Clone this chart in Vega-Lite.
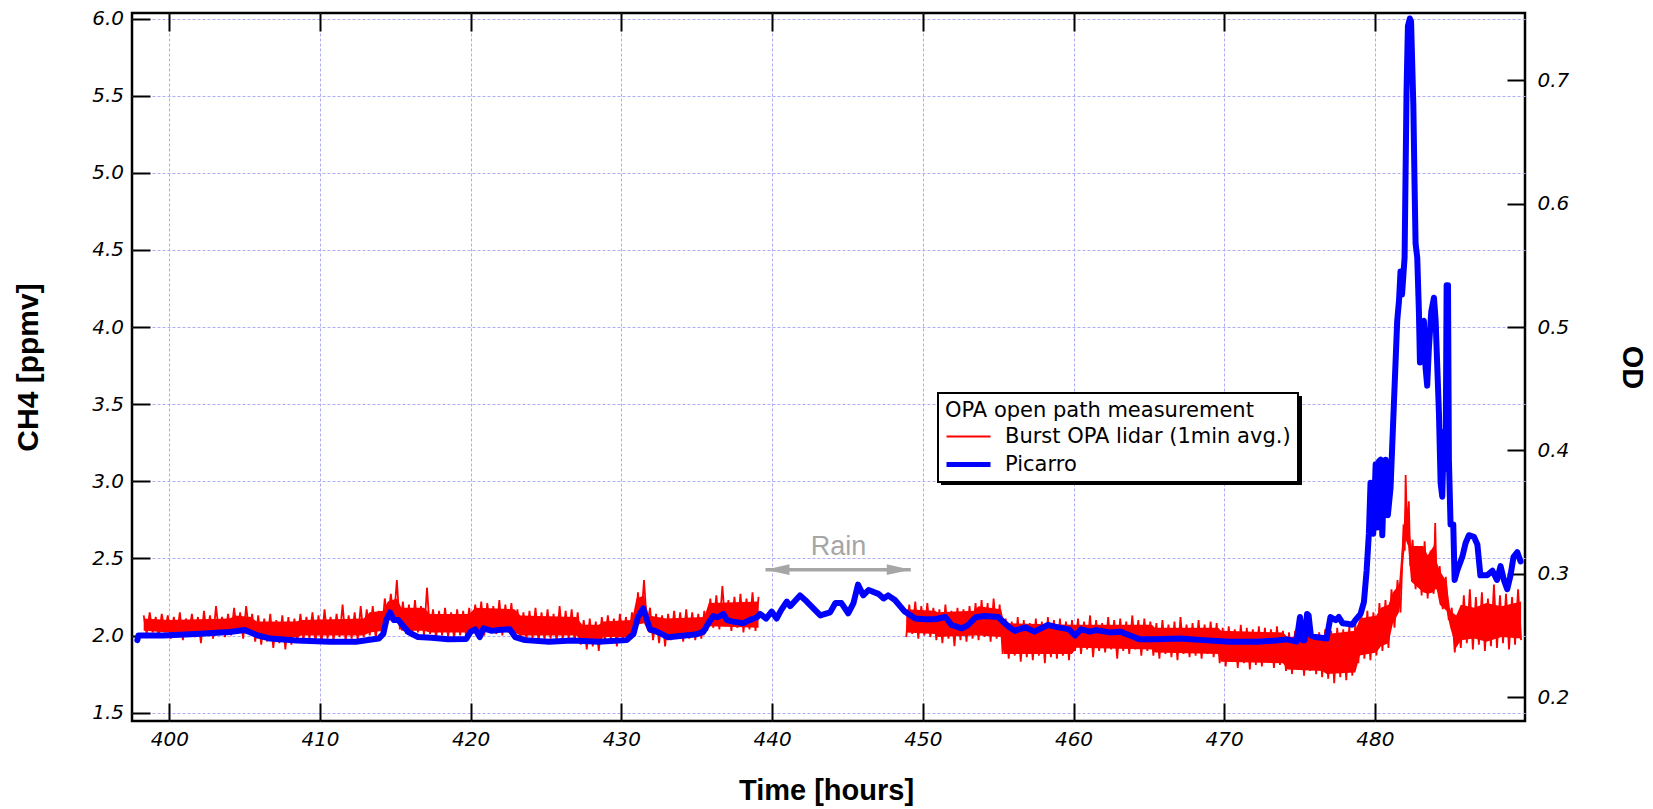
{
  "$schema": "https://vega.github.io/schema/vega-lite/v6.json",
  "width": 1393,
  "height": 708,
  "autosize": {"type": "none"},
  "padding": {"left": 132, "top": 13, "right": 128, "bottom": 88},
  "background": "white",
  "config": {
    "view": {"stroke": "black", "strokeWidth": 2.5},
    "axis": {
      "domain": false,
      "tickColor": "black",
      "tickWidth": 2,
      "tickSize": -18,
      "labelColor": "black",
      "labelFont": "DejaVu Sans",
      "labelFontStyle": "italic",
      "labelFontSize": 20,
      "titleFont": "Liberation Sans",
      "titleFontWeight": "bold",
      "titleFontSize": 29,
      "titleColor": "black",
      "gridColor": "#adadf5",
      "gridDash": [3, 2],
      "gridWidth": 1
    }
  },
  "datasets": {
    "band1": [
      {"t":398.3,"lo":2.03,"hi":2.11},{"t":400.0,"lo":2.02,"hi":2.10},{"t":404.0,"lo":2.02,"hi":2.11},{"t":404.4,"lo":2.02,"hi":2.13},{"t":405.4,"lo":2.01,"hi":2.12},
      {"t":405.8,"lo":1.98,"hi":2.09},{"t":408.4,"lo":1.99,"hi":2.09},{"t":408.8,"lo":2.00,"hi":2.10},{"t":412.9,"lo":2.00,"hi":2.11},{"t":413.3,"lo":2.02,"hi":2.15},
      {"t":414.2,"lo":2.03,"hi":2.16},{"t":414.5,"lo":2.10,"hi":2.22},{"t":415.1,"lo":2.09,"hi":2.24},{"t":415.4,"lo":2.03,"hi":2.18},{"t":416.9,"lo":2.03,"hi":2.18},
      {"t":417.3,"lo":2.02,"hi":2.14},{"t":419.9,"lo":2.02,"hi":2.14},{"t":420.3,"lo":2.03,"hi":2.18},{"t":422.9,"lo":2.02,"hi":2.17},{"t":423.3,"lo":2.00,"hi":2.13},
      {"t":427.0,"lo":2.00,"hi":2.12},{"t":427.4,"lo":1.96,"hi":2.07},{"t":428.5,"lo":1.95,"hi":2.07},{"t":428.8,"lo":1.99,"hi":2.09},{"t":430.7,"lo":1.99,"hi":2.10},
      {"t":431.0,"lo":2.07,"hi":2.24},{"t":431.5,"lo":2.08,"hi":2.26},{"t":431.8,"lo":2.02,"hi":2.13},{"t":433.0,"lo":1.99,"hi":2.11},{"t":435.5,"lo":2.00,"hi":2.12},
      {"t":435.8,"lo":2.06,"hi":2.21},{"t":439.1,"lo":2.05,"hi":2.22}
    ],
    "band2": [
      {"t":448.9,"lo":2.02,"hi":2.17},{"t":450.8,"lo":2.01,"hi":2.16},{"t":451.0,"lo":1.99,"hi":2.15},{"t":453.4,"lo":2.00,"hi":2.16},{"t":453.7,"lo":2.00,"hi":2.19},
      {"t":455.2,"lo":1.99,"hi":2.17},{"t":455.4,"lo":1.88,"hi":2.08},{"t":459.9,"lo":1.88,"hi":2.07},{"t":460.2,"lo":1.92,"hi":2.07},{"t":465.2,"lo":1.91,"hi":2.07},
      {"t":465.4,"lo":1.89,"hi":2.05},{"t":469.6,"lo":1.88,"hi":2.05},{"t":469.8,"lo":1.83,"hi":2.03},{"t":473.9,"lo":1.82,"hi":2.02},{"t":474.2,"lo":1.78,"hi":1.99},
      {"t":476.5,"lo":1.77,"hi":2.00},{"t":476.8,"lo":1.75,"hi":2.01},{"t":478.7,"lo":1.76,"hi":2.03},{"t":479.0,"lo":1.87,"hi":2.11},{"t":480.1,"lo":1.89,"hi":2.13},
      {"t":480.4,"lo":1.93,"hi":2.18},{"t":480.9,"lo":1.95,"hi":2.20},{"t":481.2,"lo":2.08,"hi":2.28},{"t":481.6,"lo":2.15,"hi":2.33},{"t":481.9,"lo":2.50,"hi":2.70},
      {"t":482.04,"lo":2.62,"hi":2.90},{"t":482.2,"lo":2.58,"hi":2.80},{"t":482.4,"lo":2.35,"hi":2.58},{"t":483.2,"lo":2.28,"hi":2.58},{"t":483.5,"lo":2.27,"hi":2.52},
      {"t":483.9,"lo":2.28,"hi":2.58},{"t":484.0,"lo":2.30,"hi":2.68},{"t":484.1,"lo":2.30,"hi":2.48},{"t":484.3,"lo":2.20,"hi":2.42},{"t":484.75,"lo":2.16,"hi":2.35},
      {"t":485.0,"lo":2.05,"hi":2.16},{"t":485.4,"lo":1.92,"hi":2.13},{"t":485.7,"lo":1.97,"hi":2.20},{"t":486.6,"lo":1.98,"hi":2.18},{"t":487.4,"lo":1.96,"hi":2.21},
      {"t":488.4,"lo":1.99,"hi":2.19},{"t":489.7,"lo":1.98,"hi":2.22}
    ],
    "red1": [
      {"t":398.3,"v":2.13},{"t":398.5,"v":2.01},{"t":398.7,"v":2.15},{"t":398.9,"v":2.02},{"t":399.1,"v":2.12},{"t":399.3,"v":1.99},{"t":399.5,"v":2.14},{"t":399.7,"v":2.02},{"t":399.9,"v":2.13},{"t":400.1,"v":1.98},
      {"t":400.3,"v":2.12},{"t":400.5,"v":2.00},{"t":400.7,"v":2.15},{"t":400.9,"v":1.97},{"t":401.1,"v":2.11},{"t":401.3,"v":2.01},{"t":401.5,"v":2.14},{"t":401.7,"v":1.99},{"t":401.9,"v":2.12},{"t":402.1,"v":1.95},
      {"t":402.3,"v":2.16},{"t":402.5,"v":2.00},{"t":402.7,"v":2.13},{"t":402.9,"v":1.98},{"t":403.1,"v":2.19},{"t":403.3,"v":2.01},{"t":403.5,"v":2.12},{"t":403.7,"v":1.99},{"t":403.9,"v":2.14},{"t":404.1,"v":2.00},
      {"t":404.3,"v":2.18},{"t":404.5,"v":2.01},{"t":404.7,"v":2.15},{"t":404.9,"v":1.98},{"t":405.1,"v":2.19},{"t":405.3,"v":2.02},{"t":405.5,"v":2.14},{"t":405.7,"v":1.96},{"t":405.9,"v":2.13},{"t":406.1,"v":1.94},
      {"t":406.3,"v":2.11},{"t":406.5,"v":1.96},{"t":406.7,"v":2.14},{"t":406.9,"v":1.92},{"t":407.1,"v":2.10},{"t":407.3,"v":1.95},{"t":407.5,"v":2.13},{"t":407.7,"v":1.91},{"t":407.9,"v":2.12},{"t":408.1,"v":1.94},
      {"t":408.3,"v":2.11},{"t":408.5,"v":1.96},{"t":408.7,"v":2.14},{"t":408.9,"v":1.97},{"t":409.1,"v":2.12},{"t":409.3,"v":1.98},{"t":409.5,"v":2.15},{"t":409.7,"v":1.96},{"t":409.9,"v":2.13},{"t":410.1,"v":1.95},
      {"t":410.3,"v":2.17},{"t":410.5,"v":1.98},{"t":410.7,"v":2.12},{"t":410.9,"v":1.97},{"t":411.1,"v":2.14},{"t":411.3,"v":1.99},{"t":411.5,"v":2.20},{"t":411.7,"v":1.96},{"t":411.9,"v":2.13},{"t":412.1,"v":1.98},
      {"t":412.3,"v":2.15},{"t":412.5,"v":1.97},{"t":412.7,"v":2.19},{"t":412.9,"v":1.99},{"t":413.1,"v":2.17},{"t":413.3,"v":2.00},{"t":413.5,"v":2.19},{"t":413.7,"v":1.98},{"t":413.9,"v":2.16},{"t":414.1,"v":2.02},
      {"t":414.3,"v":2.24},{"t":414.5,"v":2.08},{"t":414.7,"v":2.27},{"t":414.9,"v":2.10},{"t":415.1,"v":2.36},{"t":415.3,"v":2.04},{"t":415.5,"v":2.22},{"t":415.7,"v":2.01},{"t":415.9,"v":2.20},{"t":416.1,"v":1.99},
      {"t":416.3,"v":2.23},{"t":416.5,"v":2.02},{"t":416.7,"v":2.19},{"t":416.9,"v":2.00},{"t":417.1,"v":2.31},{"t":417.3,"v":2.01},{"t":417.5,"v":2.17},{"t":417.7,"v":1.98},{"t":417.9,"v":2.16},{"t":418.1,"v":2.00},
      {"t":418.3,"v":2.18},{"t":418.5,"v":1.99},{"t":418.7,"v":2.15},{"t":418.9,"v":1.98},{"t":419.1,"v":2.17},{"t":419.3,"v":2.00},{"t":419.5,"v":2.16},{"t":419.7,"v":1.99},{"t":419.9,"v":2.18},{"t":420.1,"v":2.01},
      {"t":420.3,"v":2.20},{"t":420.5,"v":2.02},{"t":420.7,"v":2.22},{"t":420.9,"v":2.00},{"t":421.1,"v":2.21},{"t":421.3,"v":2.03},{"t":421.5,"v":2.19},{"t":421.7,"v":2.01},{"t":421.9,"v":2.23},{"t":422.1,"v":2.00},
      {"t":422.3,"v":2.20},{"t":422.5,"v":2.02},{"t":422.7,"v":2.21},{"t":422.9,"v":1.99},{"t":423.1,"v":2.17},{"t":423.3,"v":1.98},{"t":423.5,"v":2.15},{"t":423.7,"v":1.97},{"t":423.9,"v":2.16},{"t":424.1,"v":1.98},
      {"t":424.3,"v":2.18},{"t":424.5,"v":1.96},{"t":424.7,"v":2.15},{"t":424.9,"v":1.97},{"t":425.1,"v":2.17},{"t":425.3,"v":1.98},{"t":425.5,"v":2.14},{"t":425.7,"v":1.96},{"t":425.9,"v":2.19},{"t":426.1,"v":1.97},
      {"t":426.3,"v":2.16},{"t":426.5,"v":1.98},{"t":426.7,"v":2.17},{"t":426.9,"v":1.96},{"t":427.1,"v":2.15},{"t":427.3,"v":1.94},{"t":427.5,"v":2.10},{"t":427.7,"v":1.91},{"t":427.9,"v":2.11},{"t":428.1,"v":1.93},
      {"t":428.3,"v":2.09},{"t":428.5,"v":1.90},{"t":428.7,"v":2.12},{"t":428.9,"v":1.96},{"t":429.1,"v":2.13},{"t":429.3,"v":1.97},{"t":429.5,"v":2.11},{"t":429.7,"v":1.93},{"t":429.9,"v":2.14},{"t":430.1,"v":1.96},
      {"t":430.3,"v":2.12},{"t":430.5,"v":1.97},{"t":430.7,"v":2.15},{"t":430.9,"v":2.04},{"t":431.1,"v":2.28},{"t":431.3,"v":2.08},{"t":431.5,"v":2.36},{"t":431.7,"v":2.06},{"t":431.9,"v":2.18},{"t":432.1,"v":1.97},
      {"t":432.3,"v":2.14},{"t":432.5,"v":1.95},{"t":432.7,"v":2.13},{"t":432.9,"v":1.93},{"t":433.1,"v":2.14},{"t":433.3,"v":1.97},{"t":433.5,"v":2.16},{"t":433.7,"v":1.98},{"t":433.9,"v":2.15},{"t":434.1,"v":1.96},
      {"t":434.3,"v":2.17},{"t":434.5,"v":1.98},{"t":434.7,"v":2.15},{"t":434.9,"v":1.97},{"t":435.1,"v":2.14},{"t":435.3,"v":1.98},{"t":435.5,"v":2.16},{"t":435.7,"v":2.03},{"t":435.9,"v":2.24},{"t":436.1,"v":2.05},
      {"t":436.3,"v":2.26},{"t":436.5,"v":2.04},{"t":436.7,"v":2.32},{"t":436.9,"v":2.06},{"t":437.1,"v":2.23},{"t":437.3,"v":2.03},{"t":437.5,"v":2.25},{"t":437.7,"v":2.05},{"t":437.9,"v":2.27},{"t":438.1,"v":2.02},
      {"t":438.3,"v":2.24},{"t":438.5,"v":2.04},{"t":438.7,"v":2.28},{"t":438.9,"v":2.03},{"t":439.1,"v":2.25}
    ],
    "red2": [
      {"t":448.9,"v":1.99},{"t":449.1,"v":2.20},{"t":449.3,"v":2.01},{"t":449.5,"v":2.22},{"t":449.7,"v":1.98},{"t":449.9,"v":2.19},{"t":450.1,"v":2.00},{"t":450.3,"v":2.21},{"t":450.5,"v":1.99},{"t":450.7,"v":2.18},
      {"t":450.9,"v":1.97},{"t":451.1,"v":2.17},{"t":451.3,"v":1.95},{"t":451.5,"v":2.20},{"t":451.7,"v":1.98},{"t":451.9,"v":2.16},{"t":452.1,"v":1.93},{"t":452.3,"v":2.18},{"t":452.5,"v":1.97},{"t":452.7,"v":2.17},
      {"t":452.9,"v":1.96},{"t":453.1,"v":2.19},{"t":453.3,"v":1.98},{"t":453.5,"v":2.21},{"t":453.7,"v":1.97},{"t":453.9,"v":2.23},{"t":454.1,"v":1.99},{"t":454.3,"v":2.21},{"t":454.5,"v":1.96},{"t":454.7,"v":2.24},
      {"t":454.9,"v":1.98},{"t":455.1,"v":2.20},{"t":455.3,"v":1.88},{"t":455.5,"v":2.11},{"t":455.7,"v":1.85},{"t":455.9,"v":2.09},{"t":456.1,"v":1.87},{"t":456.3,"v":2.12},{"t":456.5,"v":1.83},{"t":456.7,"v":2.10},
      {"t":456.9,"v":1.86},{"t":457.1,"v":2.08},{"t":457.3,"v":1.84},{"t":457.5,"v":2.11},{"t":457.7,"v":1.87},{"t":457.9,"v":2.09},{"t":458.1,"v":1.82},{"t":458.3,"v":2.12},{"t":458.5,"v":1.86},{"t":458.7,"v":2.10},
      {"t":458.9,"v":1.85},{"t":459.1,"v":2.11},{"t":459.3,"v":1.87},{"t":459.5,"v":2.09},{"t":459.7,"v":1.84},{"t":459.9,"v":2.10},{"t":460.1,"v":1.90},{"t":460.3,"v":2.11},{"t":460.5,"v":1.88},{"t":460.7,"v":2.09},
      {"t":460.9,"v":1.91},{"t":461.1,"v":2.13},{"t":461.3,"v":1.86},{"t":461.5,"v":2.10},{"t":461.7,"v":1.90},{"t":461.9,"v":2.08},{"t":462.1,"v":1.89},{"t":462.3,"v":2.12},{"t":462.5,"v":1.91},{"t":462.7,"v":2.10},
      {"t":462.9,"v":1.85},{"t":463.1,"v":2.11},{"t":463.3,"v":1.90},{"t":463.5,"v":2.09},{"t":463.7,"v":1.88},{"t":463.9,"v":2.13},{"t":464.1,"v":1.91},{"t":464.3,"v":2.10},{"t":464.5,"v":1.87},{"t":464.7,"v":2.11},
      {"t":464.9,"v":1.90},{"t":465.1,"v":2.09},{"t":465.3,"v":1.87},{"t":465.5,"v":2.08},{"t":465.7,"v":1.85},{"t":465.9,"v":2.10},{"t":466.1,"v":1.88},{"t":466.3,"v":2.07},{"t":466.5,"v":1.86},{"t":466.7,"v":2.09},
      {"t":466.9,"v":1.84},{"t":467.1,"v":2.12},{"t":467.3,"v":1.88},{"t":467.5,"v":2.07},{"t":467.7,"v":1.86},{"t":467.9,"v":2.08},{"t":468.1,"v":1.87},{"t":468.3,"v":2.10},{"t":468.5,"v":1.85},{"t":468.7,"v":2.07},
      {"t":468.9,"v":1.88},{"t":469.1,"v":2.09},{"t":469.3,"v":1.86},{"t":469.5,"v":2.08},{"t":469.7,"v":1.82},{"t":469.9,"v":2.05},{"t":470.1,"v":1.80},{"t":470.3,"v":2.06},{"t":470.5,"v":1.83},{"t":470.7,"v":2.04},
      {"t":470.9,"v":1.79},{"t":471.1,"v":2.07},{"t":471.3,"v":1.82},{"t":471.5,"v":2.05},{"t":471.7,"v":1.78},{"t":471.9,"v":2.04},{"t":472.1,"v":1.81},{"t":472.3,"v":2.06},{"t":472.5,"v":1.80},{"t":472.7,"v":2.05},
      {"t":472.9,"v":1.83},{"t":473.1,"v":2.04},{"t":473.3,"v":1.79},{"t":473.5,"v":2.06},{"t":473.7,"v":1.81},{"t":473.9,"v":2.03},{"t":474.1,"v":1.77},{"t":474.3,"v":2.02},{"t":474.5,"v":1.75},{"t":474.7,"v":2.03},
      {"t":474.9,"v":1.78},{"t":475.1,"v":2.01},{"t":475.3,"v":1.74},{"t":475.5,"v":2.03},{"t":475.7,"v":1.77},{"t":475.9,"v":2.00},{"t":476.1,"v":1.75},{"t":476.3,"v":2.02},{"t":476.5,"v":1.73},{"t":476.7,"v":2.04},
      {"t":476.9,"v":1.72},{"t":477.1,"v":2.03},{"t":477.3,"v":1.69},{"t":477.5,"v":2.05},{"t":477.7,"v":1.73},{"t":477.9,"v":2.04},{"t":478.1,"v":1.71},{"t":478.3,"v":2.06},{"t":478.5,"v":1.74},{"t":478.7,"v":2.08},
      {"t":478.9,"v":1.82},{"t":479.1,"v":2.14},{"t":479.3,"v":1.85},{"t":479.5,"v":2.16},{"t":479.7,"v":1.84},{"t":479.9,"v":2.15},{"t":480.1,"v":1.87},{"t":480.3,"v":2.21},{"t":480.5,"v":1.90},{"t":480.7,"v":2.23},
      {"t":480.9,"v":1.92},{"t":481.1,"v":2.30},{"t":481.3,"v":2.05},{"t":481.5,"v":2.36},{"t":481.7,"v":2.15},{"t":481.9,"v":2.72},{"t":481.98,"v":2.55},{"t":482.04,"v":3.04},{"t":482.15,"v":2.62},{"t":482.25,"v":2.87},
      {"t":482.35,"v":2.45},{"t":482.5,"v":2.62},{"t":482.7,"v":2.30},{"t":482.9,"v":2.58},{"t":483.1,"v":2.26},{"t":483.3,"v":2.61},{"t":483.5,"v":2.24},{"t":483.7,"v":2.55},{"t":483.9,"v":2.27},{"t":484.0,"v":2.73},
      {"t":484.1,"v":2.30},{"t":484.3,"v":2.45},{"t":484.5,"v":2.17},{"t":484.7,"v":2.38},{"t":484.9,"v":2.10},{"t":485.1,"v":2.18},{"t":485.3,"v":1.89},{"t":485.5,"v":2.14},{"t":485.7,"v":1.92},{"t":485.9,"v":2.26},
      {"t":486.1,"v":1.95},{"t":486.3,"v":2.30},{"t":486.5,"v":1.91},{"t":486.7,"v":2.25},{"t":486.9,"v":1.94},{"t":487.1,"v":2.28},{"t":487.3,"v":1.90},{"t":487.5,"v":2.24},{"t":487.7,"v":1.93},{"t":487.9,"v":2.33},
      {"t":488.1,"v":1.92},{"t":488.3,"v":2.26},{"t":488.5,"v":1.95},{"t":488.7,"v":2.27},{"t":488.9,"v":1.91},{"t":489.1,"v":2.25},{"t":489.3,"v":1.94},{"t":489.5,"v":2.30},{"t":489.7,"v":1.97}
    ],
    "blue": [
      {"t":397.88,"v":1.97},{"t":397.95,"v":2.0},{"t":399.6,"v":2.0},{"t":401.8,"v":2.01},{"t":404.0,"v":2.023},{"t":405.0,"v":2.036},{"t":405.8,"v":2.003},{"t":406.7,"v":1.98},{"t":408.45,"v":1.967},{"t":410.66,"v":1.96},
      {"t":412.4,"v":1.96},{"t":413.3,"v":1.972},{"t":413.9,"v":1.98},{"t":414.2,"v":2.01},{"t":414.4,"v":2.1},{"t":414.65,"v":2.15},{"t":414.9,"v":2.1},{"t":415.2,"v":2.1},{"t":415.45,"v":2.07},{"t":415.9,"v":2.02},
      {"t":416.5,"v":1.99},{"t":417.4,"v":1.985},{"t":418.5,"v":1.975},{"t":419.7,"v":1.977},{"t":420.0,"v":2.025},{"t":420.3,"v":2.04},{"t":420.6,"v":1.99},{"t":420.85,"v":2.046},{"t":421.4,"v":2.03},{"t":421.8,"v":2.035},
      {"t":422.6,"v":2.04},{"t":422.95,"v":1.99},{"t":423.6,"v":1.97},{"t":425.2,"v":1.96},{"t":426.7,"v":1.967},{"t":428.5,"v":1.96},{"t":430.35,"v":1.97},{"t":430.8,"v":2.01},{"t":431.1,"v":2.12},{"t":431.45,"v":2.176},
      {"t":431.7,"v":2.1},{"t":431.9,"v":2.04},{"t":432.35,"v":2.025},{"t":433.1,"v":1.988},{"t":433.9,"v":1.997},{"t":435.0,"v":2.008},{"t":435.44,"v":2.025},{"t":435.77,"v":2.08},{"t":436.1,"v":2.126},{"t":436.4,"v":2.118},
      {"t":436.77,"v":2.14},{"t":437.0,"v":2.1},{"t":437.4,"v":2.09},{"t":438.1,"v":2.08},{"t":438.5,"v":2.1},{"t":439.0,"v":2.118},{"t":439.2,"v":2.14},{"t":439.6,"v":2.11},{"t":439.97,"v":2.155},{"t":440.3,"v":2.11},
      {"t":440.6,"v":2.165},{"t":440.97,"v":2.22},{"t":441.2,"v":2.19},{"t":441.85,"v":2.26},{"t":442.3,"v":2.22},{"t":442.74,"v":2.176},{"t":443.2,"v":2.13},{"t":443.85,"v":2.15},{"t":444.2,"v":2.21},{"t":444.6,"v":2.21},
      {"t":445.05,"v":2.144},{"t":445.4,"v":2.21},{"t":445.7,"v":2.33},{"t":446.05,"v":2.26},{"t":446.4,"v":2.295},{"t":447.05,"v":2.27},{"t":447.4,"v":2.24},{"t":447.7,"v":2.26},{"t":448.15,"v":2.23},{"t":448.8,"v":2.155},
      {"t":449.5,"v":2.11},{"t":450.15,"v":2.105},{"t":450.8,"v":2.105},{"t":451.5,"v":2.12},{"t":451.9,"v":2.068},{"t":452.6,"v":2.046},{"t":453.0,"v":2.068},{"t":453.5,"v":2.118},{"t":454.1,"v":2.126},{"t":455.0,"v":2.12},
      {"t":455.7,"v":2.057},{"t":456.1,"v":2.03},{"t":456.8,"v":2.053},{"t":457.4,"v":2.025},{"t":458.3,"v":2.068},{"t":459.0,"v":2.053},{"t":459.7,"v":2.04},{"t":460.1,"v":2.0},{"t":460.5,"v":2.04},{"t":461.1,"v":2.025},
      {"t":461.5,"v":2.035},{"t":462.4,"v":2.02},{"t":463.1,"v":2.025},{"t":463.75,"v":2.0},{"t":464.4,"v":1.975},{"t":465.5,"v":1.975},{"t":467.1,"v":1.98},{"t":468.6,"v":1.97},{"t":470.4,"v":1.96},{"t":472.2,"v":1.96},
      {"t":473.5,"v":1.967},{"t":474.15,"v":1.975},{"t":474.8,"v":1.96},{"t":475.03,"v":2.12},{"t":475.2,"v":1.97},{"t":475.33,"v":1.97},{"t":475.5,"v":2.14},{"t":475.6,"v":2.13},{"t":475.75,"v":2.0},{"t":476.06,"v":1.99},
      {"t":476.8,"v":1.98},{"t":477.05,"v":2.12},{"t":477.4,"v":2.1},{"t":477.6,"v":2.12},{"t":477.85,"v":2.08},{"t":478.16,"v":2.076},{"t":478.5,"v":2.07},{"t":478.7,"v":2.1},{"t":479.05,"v":2.14},{"t":479.27,"v":2.216},
      {"t":479.45,"v":2.42},{"t":479.6,"v":2.66},{"t":479.71,"v":2.99},{"t":479.89,"v":2.66},{"t":480.05,"v":3.11},{"t":480.16,"v":2.70},{"t":480.27,"v":3.13},{"t":480.38,"v":3.14},{"t":480.49,"v":2.65},{"t":480.6,"v":3.0},
      {"t":480.71,"v":3.14},{"t":480.86,"v":2.78},{"t":481.04,"v":2.96},{"t":481.26,"v":3.5},{"t":481.48,"v":4.04},{"t":481.6,"v":4.17},{"t":481.7,"v":4.36},{"t":481.8,"v":4.21},{"t":481.97,"v":4.45},{"t":482.1,"v":5.53},
      {"t":482.19,"v":5.95},{"t":482.32,"v":6.0},{"t":482.4,"v":5.98},{"t":482.55,"v":5.44},{"t":482.63,"v":4.93},{"t":482.7,"v":4.54},{"t":482.81,"v":4.45},{"t":482.92,"v":4.1},{"t":482.99,"v":3.77},{"t":483.15,"v":3.98},
      {"t":483.25,"v":4.04},{"t":483.36,"v":3.74},{"t":483.47,"v":3.62},{"t":483.58,"v":3.86},{"t":483.74,"v":4.1},{"t":483.92,"v":4.19},{"t":484.03,"v":4.04},{"t":484.14,"v":3.74},{"t":484.25,"v":3.44},{"t":484.36,"v":2.99},
      {"t":484.47,"v":2.90},{"t":484.58,"v":3.32},{"t":484.69,"v":3.08},{"t":484.76,"v":4.27},{"t":484.85,"v":4.27},{"t":484.91,"v":3.14},{"t":485.02,"v":2.72},{"t":485.2,"v":2.72},{"t":485.29,"v":2.36},{"t":485.46,"v":2.42},
      {"t":485.8,"v":2.51},{"t":486.02,"v":2.60},{"t":486.24,"v":2.65},{"t":486.57,"v":2.64},{"t":486.8,"v":2.59},{"t":487.0,"v":2.39},{"t":487.45,"v":2.39},{"t":487.8,"v":2.42},{"t":488.1,"v":2.36},{"t":488.34,"v":2.45},
      {"t":488.56,"v":2.36},{"t":488.78,"v":2.30},{"t":489.0,"v":2.39},{"t":489.2,"v":2.51},{"t":489.45,"v":2.54},{"t":489.67,"v":2.48}
    ],
    "rain": [{"start": 439.56, "end": 449.2, "level": 2.427}]
  },
  "layer": [
    {
      "layer": [
        {
          "data": {"name": "band1"},
          "mark": {"type": "area", "fill": "#ff0000", "opacity": 1},
          "encoding": {
            "x": {"field": "t", "type": "quantitative", "scale": {"domain": [397.525, 489.96], "nice": false, "zero": false},
                  "axis": {"orient": "bottom", "values": [400,410,420,430,440,450,460,470,480], "grid": true, "labelPadding": 26, "labelBaseline": "top", "title": "Time [hours]", "titleX": 694, "titleY": 78, "titleBaseline": "alphabetic", "titleAlign": "center", "titleAnchor": null}},
            "y": {"field": "lo", "type": "quantitative", "scale": {"domain": [1.4457, 6.0357], "nice": false, "zero": false},
                  "axis": {"orient": "left", "values": [1.5,2,2.5,3,3.5,4,4.5,5,5.5,6], "format": ".1f", "grid": true, "labelPadding": 26.5, "title": "CH4 [ppmv]", "titleAngle": -90, "titleX": -104, "titleY": 354, "titleBaseline": "middle", "titleAlign": "center", "titleFontSize": 30}},
            "y2": {"field": "hi"}
          }
        },
        {
          "data": {"name": "band2"},
          "mark": {"type": "area", "fill": "#ff0000", "opacity": 1},
          "encoding": {
            "x": {"field": "t", "type": "quantitative"},
            "y": {"field": "lo", "type": "quantitative"},
            "y2": {"field": "hi"}
          }
        },
        {
          "data": {"name": "red1"},
          "mark": {"type": "line", "strokeWidth": 1.8, "strokeJoin": "miter"},
          "encoding": {
            "x": {"field": "t", "type": "quantitative"},
            "y": {"field": "v", "type": "quantitative"},
            "color": {"datum": "Burst OPA lidar (1min avg.)", "type": "nominal",
                      "scale": {"domain": ["Burst OPA lidar (1min avg.)", "Picarro"], "range": ["#ff0000", "#0000ff"]},
                      "legend": {
                        "orient": "none", "legendX": 806, "legendY": 380, "zindex": 2,
                        "title": "OPA open path measurement",
                        "titleFont": "DejaVu Sans", "titleFontSize": 21, "titleFontWeight": "normal", "titleColor": "black", "titleLimit": 600, "titlePadding": 5,
                        "labelFont": "DejaVu Sans", "labelFontSize": 21, "labelColor": "black", "labelLimit": 600, "labelOffset": 26,
                        "symbolType": "stroke", "symbolSize": 1936, "symbolStrokeWidth": 2, "symbolOffset": 13,
                        "rowPadding": 6,
                        "padding": 7, "strokeColor": "black", "fillColor": "white", "cornerRadius": 0,
                        "encode": {
                          "legend": {"update": {"strokeWidth": {"value": 2}}},
                          "symbols": {"update": {"strokeWidth": {"signal": "datum.value === 'Picarro' ? 5 : 2"}}}
                        }
                      }}
          }
        },
        {
          "data": {"name": "red2"},
          "mark": {"type": "line", "strokeWidth": 1.8, "strokeJoin": "miter"},
          "encoding": {
            "x": {"field": "t", "type": "quantitative"},
            "y": {"field": "v", "type": "quantitative"},
            "color": {"datum": "Burst OPA lidar (1min avg.)", "type": "nominal"}
          }
        },
        {
          "data": {"name": "blue"},
          "mark": {"type": "line", "strokeWidth": 6, "strokeJoin": "round", "strokeCap": "round"},
          "encoding": {
            "x": {"field": "t", "type": "quantitative"},
            "y": {"field": "v", "type": "quantitative"},
            "color": {"datum": "Picarro", "type": "nominal"}
          }
        },
        {
          "data": {"name": "rain"},
          "mark": {"type": "rule", "stroke": "#a6a6a6", "strokeWidth": 3.5},
          "encoding": {
            "x": {"field": "start", "type": "quantitative"},
            "x2": {"field": "end"},
            "y": {"field": "level", "type": "quantitative"}
          }
        },
        {
          "data": {"name": "rain"},
          "mark": {"type": "point", "shape": "M0,0L2,-0.45L2,0.45Z", "size": 576, "filled": true, "fill": "#a6a6a6", "stroke": null, "opacity": 1},
          "encoding": {
            "x": {"field": "start", "type": "quantitative"},
            "y": {"field": "level", "type": "quantitative"}
          }
        },
        {
          "data": {"name": "rain"},
          "mark": {"type": "point", "shape": "M0,0L-2,-0.45L-2,0.45Z", "size": 576, "filled": true, "fill": "#a6a6a6", "stroke": null, "opacity": 1},
          "encoding": {
            "x": {"field": "end", "type": "quantitative"},
            "y": {"field": "level", "type": "quantitative"}
          }
        },
        {
          "data": {"name": "rain"},
          "mark": {"type": "text", "text": "Rain", "font": "Liberation Sans", "fontSize": 27, "color": "#a6a6a6", "baseline": "alphabetic", "align": "center"},
          "encoding": {
            "x": {"datum": 444.4, "type": "quantitative"},
            "y": {"datum": 2.52, "type": "quantitative"}
          }
        }
      ]
    },
    {
      "data": {"values": [{}]},
      "mark": {"type": "point", "size": 0, "filled": true, "opacity": 1},
      "encoding": {
        "x": {"datum": 440, "type": "quantitative", "scale": {"domain": [397.525, 489.96], "nice": false, "zero": false},
              "axis": {"orient": "top", "values": [400,410,420,430,440,450,460,470,480], "labels": false, "grid": false, "title": null}},
        "y": {"datum": 0.3, "type": "quantitative", "scale": {"domain": [0.18071, 0.75446], "nice": false, "zero": false},
              "axis": {"orient": "right", "values": [0.2,0.3,0.4,0.5,0.6,0.7], "format": ".1f", "grid": false, "labelPadding": 30, "title": "OD", "titleAngle": 90, "titleX": 106.5, "titleY": 354, "titleBaseline": "middle", "titleAlign": "center"}},
        "fill": {"datum": 1, "type": "quantitative",
                 "scale": {"domain": [0, 1], "range": ["black", "black"]},
                 "legend": {
                   "orient": "none", "legendX": 809, "legendY": 383, "zindex": 1,
                   "direction": "horizontal", "gradientLength": 361, "gradientThickness": 89,
                   "gradientStrokeWidth": 0, "gradientOpacity": 1, "labelExpr": "''", "labelOpacity": 0, "title": null, "padding": 0
                 }}
      }
    }
  ],
  "resolve": {"scale": {"y": "independent"}, "axis": {"x": "independent", "y": "independent"}}
}
